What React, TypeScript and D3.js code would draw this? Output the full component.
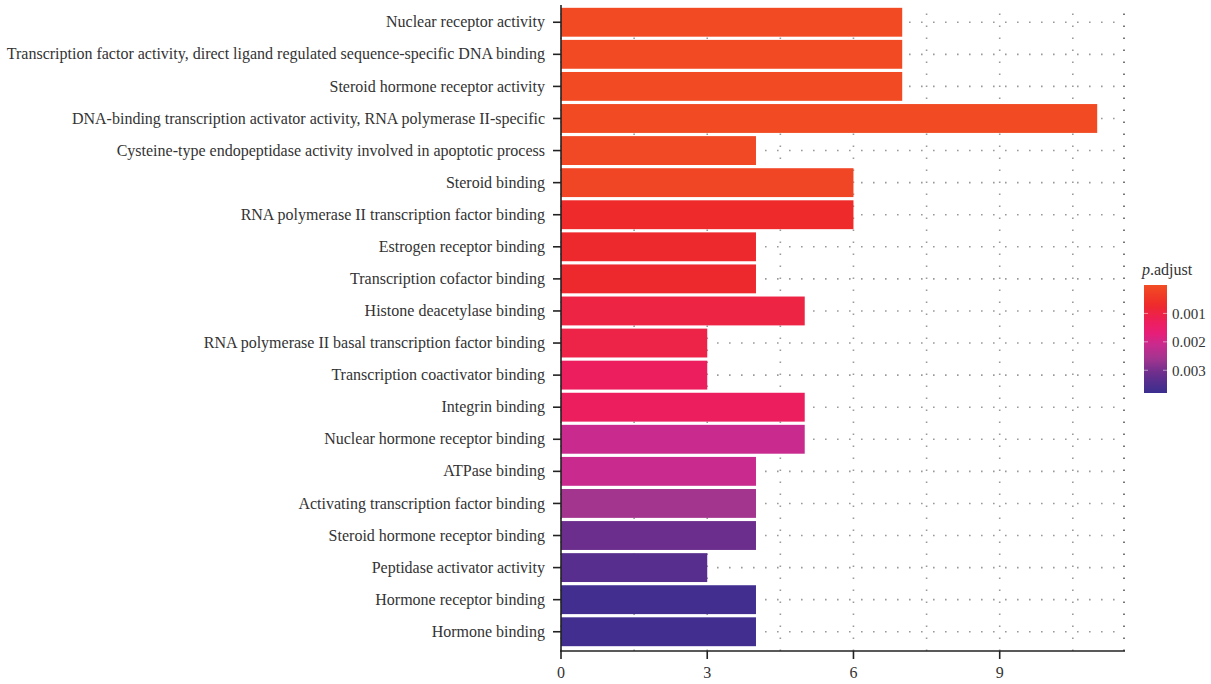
import React from 'react';
import * as d3 from 'd3';

const categories = [
  'Nuclear receptor activity',
  'Transcription factor activity, direct ligand regulated sequence-specific DNA binding',
  'Steroid hormone receptor activity',
  'DNA-binding transcription activator activity, RNA polymerase II-specific',
  'Cysteine-type endopeptidase activity involved in apoptotic process',
  'Steroid binding',
  'RNA polymerase II transcription factor binding',
  'Estrogen receptor binding',
  'Transcription cofactor binding',
  'Histone deacetylase binding',
  'RNA polymerase II basal transcription factor binding',
  'Transcription coactivator binding',
  'Integrin binding',
  'Nuclear hormone receptor binding',
  'ATPase binding',
  'Activating transcription factor binding',
  'Steroid hormone receptor binding',
  'Peptidase activator activity',
  'Hormone receptor binding',
  'Hormone binding',
];

const counts = [7, 7, 7, 11, 4, 6, 6, 4, 4, 5, 3, 3, 5, 5, 4, 4, 4, 3, 4, 4];

// p.adjust
const pAdjust = [
  0.00005, 0.00005, 0.00005, 0.00005, 0.0001, 0.00015, 0.0007, 0.00075, 0.00075, 0.001,
  0.00105, 0.0013, 0.0013, 0.0021, 0.0021, 0.0026, 0.0031, 0.0034, 0.0037, 0.0037,
];

const xTicks = [0, 3, 6, 9];
const xGrid = [0, 1.5, 3, 4.5, 6, 7.5, 9, 10.5];
const legendTicks = [0.001, 0.002, 0.003];

const colorStops = [0, 0.0007, 0.0013, 0.0017, 0.0021, 0.0026, 0.0031, 0.0038];
const colorValues = ['#F24D24', '#EE2A2A', '#ED1E5E', '#E81E78', '#C82A8E', '#A3358F', '#6C2E8C', '#3A2E8F'];

const W = 1211;
const H = 684;
const font = '"Liberation Serif", "DejaVu Serif", serif';
const textColor = '#333';

export default function App() {
  const x = d3.scaleLinear().domain([0, 11.55]).range([561, 1124]);
  const y = d3.scalePoint<string>().domain(categories).range([3, 651]).padding(0.6);
  const bh = y.step() * 0.9;
  const color = d3.scaleLinear<string>().domain(colorStops).range(colorValues).clamp(true);

  const legY = d3.scaleLinear().domain([0, 0.0038]).range([285, 393]);
  const gradStops = d3.range(0, 1.0001, 0.05).map(t => ({ t, c: color(t * 0.0038) }));

  const [y0, y1] = y.range();
  const [x0, x1] = x.range();

  return (
    <svg width={W} height={H} style={{ position: 'absolute', left: 0, top: 0, background: '#fff' }} fontFamily={font}>
      <defs>
        <linearGradient id="pgrad" x1="0" y1="0" x2="0" y2="1">
          {gradStops.map(s => (
            <stop key={s.t} offset={`${s.t * 100}%`} stopColor={s.c} />
          ))}
        </linearGradient>
      </defs>

      {/* dotted grid */}
      <g stroke="#999" strokeWidth={1.6} strokeDasharray="1.6,10.4">
        {xGrid.map(v => (
          <line key={'v' + v} x1={x(v)} x2={x(v)} y1={y1} y2={y0} />
        ))}
        <line x1={x1} x2={x1} y1={y1} y2={y0} stroke="#555" />
        {categories.map(c => (
          <line key={'h' + c} x1={x0} x2={x1} y1={y(c)} y2={y(c)} />
        ))}
      </g>

      {/* bars */}
      {categories.map((c, i) => (
        <rect
          key={c}
          x={x(0)}
          y={(y(c) as number) - bh / 2}
          width={x(counts[i]) - x(0)}
          height={bh}
          fill={color(pAdjust[i])}
        />
      ))}

      {/* y axis */}
      <line x1={x0} x2={x0} y1={y0 + 2} y2={y1 + 0.75} stroke="#222" strokeWidth={1.6} />
      {categories.map(c => (
        <g key={'yl' + c} transform={`translate(0,${y(c)})`}>
          <line x1={x0 - 8} x2={x0} stroke="#222" strokeWidth={1.6} />
          <text x={x0 - 16} dy="0.32em" textAnchor="end" fontSize={16} fill={textColor}>
            {c}
          </text>
        </g>
      ))}

      {/* x axis */}
      <line x1={x0 - 0.8} x2={x1 + 1} y1={y1} y2={y1} stroke="#222" strokeWidth={1.6} />
      {xTicks.map(t => (
        <g key={'xt' + t} transform={`translate(${x(t)},${y1})`}>
          <line y1={0} y2={8} stroke="#222" strokeWidth={1.6} />
          <text y={27} textAnchor="middle" fontSize={16} fill={textColor}>
            {t}
          </text>
        </g>
      ))}

      {/* legend */}
      <text x={1142} y={275} fontSize={16} fill={textColor}>
        <tspan fontStyle="italic">p</tspan>.adjust
      </text>
      <rect x={1144} y={legY(0)} width={23} height={legY(0.0038) - legY(0)} fill="url(#pgrad)" />
      {legendTicks.map(t => (
        <g key={'lt' + t} transform={`translate(0,${legY(t)})`}>
          <line x1={1144} x2={1148} stroke="#fff" strokeOpacity={0.5} strokeWidth={1} />
          <line x1={1163} x2={1167} stroke="#fff" strokeOpacity={0.5} strokeWidth={1} />
          <text x={1172} dy="0.35em" fontSize={15} fill={textColor}>
            {t.toFixed(3)}
          </text>
        </g>
      ))}
    </svg>
  );
}
